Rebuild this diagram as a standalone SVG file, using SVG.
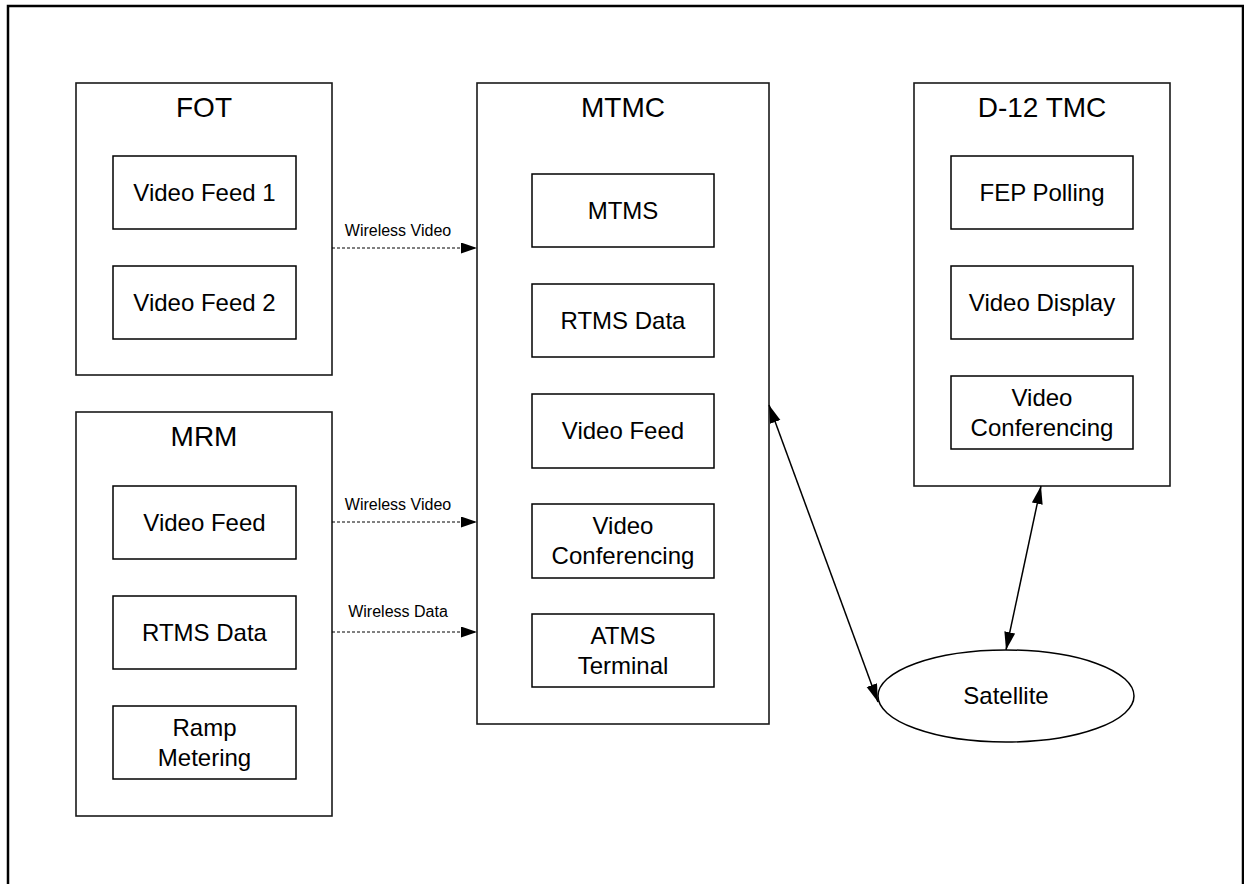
<svg xmlns="http://www.w3.org/2000/svg" width="1244" height="884" viewBox="0 0 1244 884">
<style>
.frame{fill:none;stroke:#000;stroke-width:2.5}
.cont{fill:#fff;stroke:#1a1a1a;stroke-width:1.6}
.box{fill:#fff;stroke:#000;stroke-width:1.5}
.title{font-family:"Liberation Sans",Arial,sans-serif;font-size:28px;text-anchor:middle;fill:#000}
.t{font-family:"Liberation Sans",Arial,sans-serif;font-size:24px;text-anchor:middle;fill:#000}
.lbl{font-family:"Liberation Sans",Arial,sans-serif;font-size:16px;text-anchor:middle;fill:#000}
.dash{fill:none;stroke:#000;stroke-width:1;stroke-dasharray:3,2;marker-end:url(#ah)}
.solid{fill:none;stroke:#000;stroke-width:1.5;marker-start:url(#ah2);marker-end:url(#ah2)}
</style>
<defs>
<marker id="ah" markerUnits="userSpaceOnUse" markerWidth="17" markerHeight="12" refX="16" refY="5.5" orient="auto"><path d="M0,0 L16,5.5 L0,11 z" fill="#000"/></marker>
<marker id="ah2" markerUnits="userSpaceOnUse" markerWidth="19" markerHeight="12" refX="18" refY="5.5" orient="auto-start-reverse"><path d="M0,0 L18,5.5 L0,11 z" fill="#000"/></marker>
</defs>
<rect x="0" y="0" width="1244" height="884" fill="#fff"/>
<rect class="frame" x="8" y="6" width="1235" height="900"/>

<g id="fot">
<rect class="cont" x="76" y="83" width="256" height="292"/>
<text class="title" x="204" y="117">FOT</text>
<g id="fot-vf1"><rect class="box" x="113" y="156" width="183" height="73"/><text class="t" x="204.5" y="201">Video Feed 1</text></g>
<g id="fot-vf2"><rect class="box" x="113" y="266" width="183" height="73"/><text class="t" x="204.5" y="311">Video Feed 2</text></g>
</g>

<g id="mrm">
<rect class="cont" x="76" y="412" width="256" height="404"/>
<text class="title" x="204" y="446">MRM</text>
<g id="mrm-vf"><rect class="box" x="113" y="486" width="183" height="73"/><text class="t" x="204.5" y="531">Video Feed</text></g>
<g id="mrm-rtms"><rect class="box" x="113" y="596" width="183" height="73"/><text class="t" x="204.5" y="641">RTMS Data</text></g>
<g id="mrm-ramp"><rect class="box" x="113" y="706" width="183" height="73"/><text class="t" x="204.5" y="735.5">Ramp</text><text class="t" x="204.5" y="765.5">Metering</text></g>
</g>

<g id="mtmc">
<rect class="cont" x="477" y="83" width="292" height="641"/>
<text class="title" x="623" y="117">MTMC</text>
<g id="mtmc-mtms"><rect class="box" x="532" y="174" width="182" height="73"/><text class="t" x="623" y="219">MTMS</text></g>
<g id="mtmc-rtms"><rect class="box" x="532" y="284" width="182" height="73"/><text class="t" x="623" y="329">RTMS Data</text></g>
<g id="mtmc-vf"><rect class="box" x="532" y="394" width="182" height="74"/><text class="t" x="623" y="439">Video Feed</text></g>
<g id="mtmc-vc"><rect class="box" x="532" y="504" width="182" height="74"/><text class="t" x="623" y="533.5">Video</text><text class="t" x="623" y="563.5">Conferencing</text></g>
<g id="mtmc-atms"><rect class="box" x="532" y="614" width="182" height="73"/><text class="t" x="623" y="643.5">ATMS</text><text class="t" x="623" y="673.5">Terminal</text></g>
</g>

<g id="d12">
<rect class="cont" x="914" y="83" width="256" height="403"/>
<text class="title" x="1042" y="117">D-12 TMC</text>
<g id="d12-fep"><rect class="box" x="951" y="156" width="182" height="73"/><text class="t" x="1042" y="201">FEP Polling</text></g>
<g id="d12-vd"><rect class="box" x="951" y="266" width="182" height="73"/><text class="t" x="1042" y="311">Video Display</text></g>
<g id="d12-vc"><rect class="box" x="951" y="376" width="182" height="73"/><text class="t" x="1042" y="405.5">Video</text><text class="t" x="1042" y="435.5">Conferencing</text></g>
</g>

<g id="satellite">
<ellipse cx="1006" cy="696" rx="128" ry="46" fill="#fff" stroke="#000" stroke-width="1.5"/>
<text class="t" x="1006" y="704">Satellite</text>
</g>

<g id="connectors">
<line class="dash" x1="332" y1="248" x2="477" y2="248"/>
<text class="lbl" x="398" y="236">Wireless Video</text>
<line class="dash" x1="332" y1="522" x2="477" y2="522"/>
<text class="lbl" x="398" y="510">Wireless Video</text>
<line class="dash" x1="332" y1="632" x2="477" y2="632"/>
<text class="lbl" x="398" y="617">Wireless Data</text>
<line class="solid" x1="769" y1="405" x2="878" y2="702"/>
<line class="solid" x1="1041" y1="486" x2="1006" y2="650"/>
</g>
</svg>
